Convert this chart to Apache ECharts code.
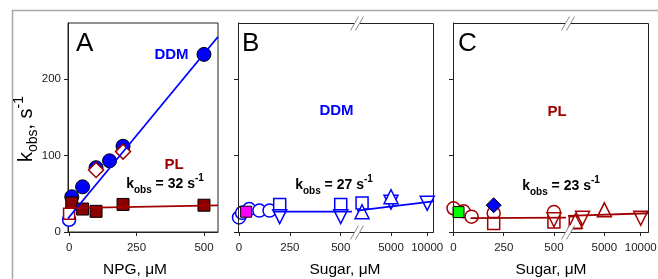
<!DOCTYPE html>
<html><head><meta charset="utf-8">
<script src="https://cdn.jsdelivr.net/npm/echarts@6/dist/echarts.min.js"></script>
<style>html,body{margin:0;padding:0;background:#fff}#c{width:658px;height:279px}</style>
</head><body><div id="c"></div>
<script>
// ---------------- DATA ----------------
// Panel A: NPG, µM  vs  kobs, s-1
const aDdmFilled = [[10,46],[50,59],[100,84],[150,93],[200,112],[500,232]];
const aDdmOpen   = [[0,16]];
const aPlDiamond = [[100,81],[200,105]];
const aPlOpenSq  = [[0,24]];
const aPlFilled  = [[10,38],[50,30],[100,27],[200,36],[500,35]];
const aDdmFit    = [[-4,17.6],[552,255]];
const aPlFit     = [[-4,31.3],[552,34.7]];
// Panel B: Sugar, µM (DDM)
const bCircles = [[0,19],[15,25],[50,30],[100,28],[150,28]];
const bMagenta = [[35,26.5]];
const bSquares = [[200,36],[500,36],[1000,38]];
const bDownTri = [[200,20],[500,20],[5000,39],[10000,37.5]];
const bUpTri   = [[1000,26.5],[5000,46]];
const bFitLow  = [[170,26.5],[555,26.5]];
const bFitHigh = [[300,28],[10800,40]];
// Panel C: Sugar, µM (PL)
const cCircles = [[0,31],[50,27],[90,20],[200,24.5],[500,26]];
const cGreen   = [[25,26]];
const cDiamond = [[200,35]];
const cSquares = [[200,11],[500,13],[1000,12]];
const cDownTri = [[500,16],[2000,18],[10000,18]];
const cUpTri   = [[1000,14],[5000,29]];
const cFitLow  = [[85,18],[560,18.7]];
const cFitHigh = [[0,21],[11000,24.5]];
// tick labels
const yTicks = [0,100,200];
const xTicksLow = [0,250,500];
const xTicksHigh = [5000,10000];
const kA = '32', kB = '27', kC = '23';
const BREAK = 800; // split between low and high axis segments

// ---------------- LAYOUT ----------------
const F = "'Liberation Sans', Arial, sans-serif";
const TOP = 23, H = 209;
const BLUE = '#0000ff', DRED = '#8b0000', RED = '#a00000', AX = '#222';
const grids = [
  {left:68,  top:TOP, width:150, height:H, show:true, borderColor:AX, borderWidth:1}, // A
  {left:238, top:TOP, width:119, height:H}, // B low
  {left:357, top:TOP, width:76,  height:H}, // B high
  {left:453, top:TOP, width:115, height:H}, // C low
  {left:568, top:TOP, width:80,  height:H}  // C high
];
const xr = [[-4,552],[-5,580],[300,10800],[-2.5,570],[0,11000]];
const xl = [xTicksLow, xTicksLow, xTicksHigh, xTicksLow, xTicksHigh];

const xAxes = grids.map((g,i)=>({
  gridIndex:i, type:'value', min:xr[i][0], max:xr[i][1],
  axisLine:{show:true, onZero:false, lineStyle:{color:AX,width:1}},
  axisTick:{show:true, customValues:xl[i], length:4, lineStyle:{color:AX}},
  axisLabel:{show:true, customValues:xl[i], margin:10, fontSize:11.5, color:'#222', fontFamily:F,
    formatter:v=>String(v)},
  splitLine:{show:false}
}));
const yAxes = grids.map((g,i)=>({
  gridIndex:i, type:'value', min:0, max:273, show: (i===0||i===1||i===3),
  axisLine:{show:true, onZero:false, lineStyle:{color:AX,width:1}},
  axisTick:{show:true, customValues:yTicks, length:4, lineStyle:{color:AX}},
  axisLabel:{show:i===0, customValues:yTicks, margin:7, fontSize:11.5, color:'#222', fontFamily:F,
    formatter:v=>String(v)},
  splitLine:{show:false}
}));

function sc(g, data, symbol, size, fill, stroke, bw, rot){
  return {type:'scatter', xAxisIndex:g, yAxisIndex:g, data, symbol, symbolSize:size,
    symbolRotate: rot||0, silent:true, animation:false,
    itemStyle:{color:fill, borderColor:stroke, borderWidth:bw, opacity:1}};
}
function ln(g, data, color){
  return {type:'line', xAxisIndex:g, yAxisIndex:g, data, symbol:'none', silent:true,
    animation:false, lineStyle:{color, width:1.8}};
}
const lo = d => d.filter(p=>p[0]<BREAK), hi = d => d.filter(p=>p[0]>=BREAK);

const series = [
  // A
  ln(0, aDdmFit, BLUE), ln(0, aPlFit, RED),
  sc(0, aDdmOpen, 'circle', 13, '#fff', BLUE, 1.5),
  sc(0, aDdmFilled, 'circle', 14, BLUE, '#000', 1),
  sc(0, aPlDiamond, 'diamond', 15, '#fff', RED, 1.5),
  sc(0, aPlFilled, 'rect', 12, DRED, '#000', 1),
  sc(0, aPlOpenSq, 'rect', 11, '#fff', RED, 1.5),
  // B
  ln(1, bFitLow, BLUE), ln(2, bFitHigh, BLUE),
  sc(1, lo(bCircles), 'circle', 13, '#fff', BLUE, 1.5),
  sc(1, bMagenta, 'rect', 11, '#ff00ff', '#000', 1),
  sc(1, lo(bSquares), 'rect', 12, '#fff', BLUE, 1.5),
  sc(2, hi(bSquares), 'rect', 12, '#fff', BLUE, 1.5),
  sc(1, lo(bDownTri), 'triangle', 14, '#fff', BLUE, 1.5, 180),
  sc(2, hi(bDownTri), 'triangle', 14, '#fff', BLUE, 1.5, 180),
  sc(2, hi(bUpTri), 'triangle', 14, '#fff', BLUE, 1.5),
  // C
  ln(3, cFitLow, RED), ln(4, cFitHigh, RED),
  sc(3, lo(cCircles), 'circle', 13, '#fff', RED, 1.5),
  sc(3, lo(cSquares), 'rect', 12, '#fff', RED, 1.5),
  sc(4, hi(cSquares), 'rect', 12, '#fff', RED, 1.5),
  sc(3, lo(cDownTri), 'triangle', 14, '#fff', RED, 1.5, 180),
  sc(4, hi(cDownTri), 'triangle', 14, '#fff', RED, 1.5, 180),
  sc(4, hi(cUpTri), 'triangle', 14, '#fff', RED, 1.5),
  sc(3, cGreen, 'rect', 11, '#00ff00', '#000', 1),
  sc(3, cDiamond, 'diamond', 15, BLUE, '#000', 1)
];

// ---------------- GRAPHICS (text, frames, breaks) ----------------
const kRich = {
  k:{fontSize:14, fontWeight:'bold', fontFamily:F, lineHeight:22, fill:'#000'},
  s:{fontSize:10, fontWeight:'bold', fontFamily:F, lineHeight:14, verticalAlign:'bottom', fill:'#000'},
  p:{fontSize:10, fontWeight:'bold', fontFamily:F, lineHeight:14, verticalAlign:'top', fill:'#000'}
};
function kobs(x,y,v){
  return {type:'text', x, y, z:50, silent:true,
    style:{text:'{k|k}{s|obs}{k| = '+v+' s}{p|-1}', rich:kRich, align:'center', verticalAlign:'middle'}};
}
function txt(x,y,t,size,color,weight,align){
  return {type:'text', x, y, z:50, silent:true,
    style:{text:t, fontSize:size, fontFamily:F, fontWeight:weight||'normal', fill:color,
      align:align||'center', verticalAlign:'middle'}};
}
function brk(bx,y){
  return [
    {type:'polygon', z:60, silent:true, shape:{points:[[bx-7,y+7],[bx+1,y-7],[bx+6,y-7],[bx-2,y+7]]}, style:{fill:'#fff', stroke:'none'}},
    {type:'line', z:61, silent:true, shape:{x1:bx-7,y1:y+7,x2:bx+1,y2:y-7}, style:{stroke:'#888', lineWidth:1}},
    {type:'line', z:61, silent:true, shape:{x1:bx-2,y1:y+7,x2:bx+6,y2:y-7}, style:{stroke:'#888', lineWidth:1}}
  ];
}
const yRich = {
  k:{fontSize:20, fontFamily:F, lineHeight:28, fill:'#000'},
  s:{fontSize:14, fontFamily:F, lineHeight:17, verticalAlign:'bottom', fill:'#000'},
  p:{fontSize:14, fontFamily:F, lineHeight:17, verticalAlign:'top', fill:'#000'}
};
const graphic = [
  {type:'rect', z:1, silent:true, shape:{x:12.5,y:10.5,width:700,height:300}, style:{fill:'none', stroke:'#a8a8a8', lineWidth:1.5}},
  {type:'rect', z:40, silent:true, shape:{x:238.5,y:23.5,width:195,height:209}, style:{fill:'none', stroke:AX, lineWidth:1}},
  {type:'rect', z:40, silent:true, shape:{x:453.5,y:23.5,width:195,height:209}, style:{fill:'none', stroke:AX, lineWidth:1}},
  ...brk(357.5,23.5), ...brk(357.5,232.5), ...brk(568.5,23.5), ...brk(568.5,232.5),
  txt(76,43.5,'A',26,'#000','normal','left'),
  txt(242,43.5,'B',26,'#000','normal','left'),
  txt(458,43.5,'C',26,'#000','normal','left'),
  txt(171.5,54.5,'DDM',15,BLUE,'bold'),
  txt(174,164.5,'PL',15,RED,'bold'),
  txt(336.5,110.5,'DDM',15,BLUE,'bold'),
  txt(557,111.5,'PL',15,RED,'bold'),
  kobs(165,184,kA), kobs(334,185,kB), kobs(561,186,kC),
  txt(135,270,'NPG, μM',15.5,'#000'),
  txt(345,270,'Sugar, μM',15.5,'#000'),
  txt(551,270,'Sugar, μM',15.5,'#000'),
  {type:'text', x:26, y:129, rotation:Math.PI/2, z:50, silent:true,
    style:{text:'{k|k}{s|obs}{k|, s}{p|-1}', rich:yRich, align:'center', verticalAlign:'middle'}}
];

const chart = echarts.init(document.getElementById('c'), null, {renderer:'canvas'});
chart.setOption({
  animation:false,
  textStyle:{fontFamily:F},
  grid: grids.map(g=>Object.assign({outerBoundsMode:'none', containLabel:false}, g)),
  xAxis: xAxes, yAxis: yAxes, series, graphic
});
</script></body></html>
